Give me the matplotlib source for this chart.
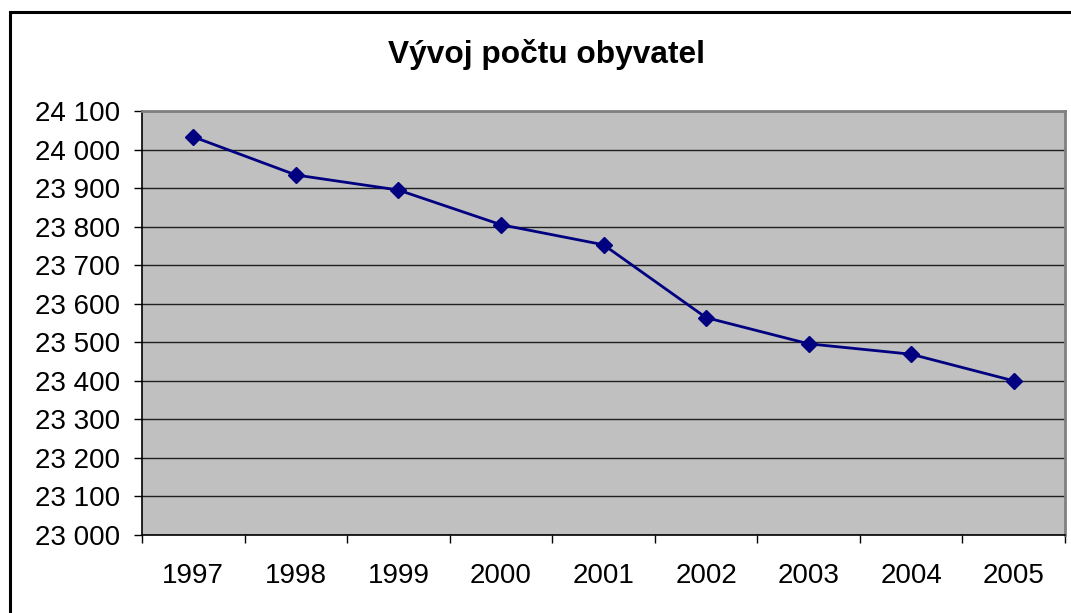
import matplotlib
matplotlib.use("Agg")
import matplotlib.pyplot as plt
from matplotlib.patches import Rectangle
from matplotlib.ticker import FuncFormatter, FixedLocator

plt.rcParams["font.family"] = ["Liberation Sans", "DejaVu Sans"]

# data
years = ["1997", "1998", "1999", "2000", "2001", "2002", "2003", "2004", "2005"]
population = [24033, 23934, 23895, 23805, 23753, 23564, 23496, 23469, 23400]
y_ticks = list(range(23000, 24101, 100))

fig = plt.figure(figsize=(10.71, 6.13), dpi=100)
W, H = 1071, 613
# plot area in pixels: left 142, right 1065, top 111, bottom 535
ax = fig.add_axes([142 / W, 1 - 535 / H, (1065 - 142) / W, (535 - 111) / H])
ax.set_facecolor("#C0C0C0")

x = list(range(len(years)))
ax.plot(x, population, color="#000080", linewidth=2, marker="D",
        markersize=8, markerfacecolor="#000080", markeredgecolor="#000080",
        zorder=3, clip_on=False)

ax.set_ylim(23000, 24100)
ax.set_xlim(-0.5, len(years) - 0.5)
ax.yaxis.set_major_locator(FixedLocator(y_ticks))
ax.yaxis.set_major_formatter(FuncFormatter(lambda v, p: f"{int(v):,}".replace(",", " ")))
ax.grid(axis="y", color="#202020", linewidth=1, zorder=1)
ax.set_axisbelow(True)

# category boundaries get the ticks, labels sit in the middle
ax.xaxis.set_major_locator(FixedLocator([i - 0.5 for i in range(len(years) + 1)]))
ax.xaxis.set_major_formatter(FuncFormatter(lambda v, p: ""))
ax.xaxis.set_minor_locator(FixedLocator(x))
ax.set_xticklabels(years, minor=True)
ax.tick_params(axis="x", which="major", direction="out", length=6, width=1, color="black")
ax.tick_params(axis="x", which="minor", length=0, pad=20, labelsize=20)
ax.tick_params(axis="y", direction="out", length=6, width=1, color="black",
               pad=10, labelsize=20)

for side in ("left", "bottom"):
    ax.spines[side].set_color("black")
    ax.spines[side].set_linewidth(1.2)
for side in ("top", "right"):
    ax.spines[side].set_color("#808080")
    ax.spines[side].set_linewidth(2)

fig.text(547 / W, 1 - 55 / H, "Vývoj počtu obyvatel", ha="center", va="center",
         fontsize=22.8, fontweight="bold")

# outer chart frame runs off the right and bottom edges
frame = Rectangle((9.5 / W, -0.1), 1.2, 1 - 11.5 / H + 0.1, transform=fig.transFigure,
                  fill=False, edgecolor="black", linewidth=2.2, clip_on=False)
fig.patches.append(frame)

fig.savefig("out.png", dpi=100)
